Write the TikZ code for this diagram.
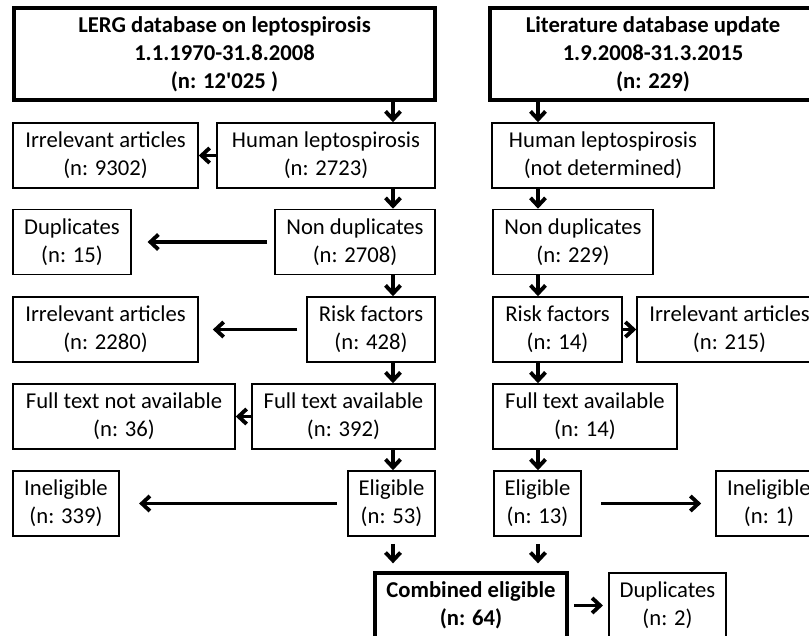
\documentclass[tikz,border=0pt]{standalone}
\usepackage{fontspec}
\setmainfont{Carlito}
\usepackage{tikz}
\usetikzlibrary{positioning, calc}
\usetikzlibrary{arrows.meta}

\tikzset{
    box/.style={draw, line width=0.9pt, align=center, inner sep=0pt, minimum height=1.3cm, font=\fontsize{12.9}{15.9}\selectfont},
    headbox/.style={box, line width=2pt, font=\fontsize{12.9}{15.9}\selectfont\bfseries},
    wd/.style={minimum width=#1*0.02cm},
    flow/.style={line width=2.2pt, -{Straight Barb[length=1.6mm,width=3mm]}}
}

\begin{document}
\begin{tikzpicture}[x=0.02cm, y=-0.02cm]
                \useasboundingbox (0,0) rectangle (809,636);
                \clip (0,0) rectangle (809,636);
                \coordinate (colL) at (393,0);
                \coordinate (colR) at (538,0);
                \node[headbox, wd=421, minimum height=1.84cm] (lerg) at (224.5,54) {LERG database on leptospirosis\\1.1.1970-31.8.2008\\(n: 12\textquotesingle025 )};
                \node[headbox, wd=326, minimum height=1.84cm] (lit) at (653,54) {Literature database update\\1.9.2008-31.3.2015\\(n: 229)};
                \node[box, wd=185] (irrA) at (105.5,155.5) {Irrelevant articles\\(n: 9302)};
                \node[box, wd=218] (humA) at (326,155.5) {Human leptospirosis\\(n: 2723)};
                \node[box, wd=222] (humB) at (603,155.5) {Human leptospirosis\\(not determined)};
                \node[box, wd=118] (dupA) at (72,242) {Duplicates\\(n: 15)};
                \node[box, wd=160] (ndA) at (355,242) {Non duplicates\\(n: 2708)};
                \node[box, wd=160] (ndB) at (573,242) {Non duplicates\\(n: 229)};
                \node[box, wd=185] (irrB) at (105.5,329.5) {Irrelevant articles\\(n: 2280)};
                \node[box, wd=128] (rfA) at (371,329.5) {Risk factors\\(n: 428)};
                \node[box, wd=129] (rfB) at (557.5,329.5) {Risk factors\\(n: 14)};
                \node[box, wd=185] (irrC) at (729.5,329.5) {Irrelevant articles\\(n: 215)};
                \node[box, wd=222] (ftna) at (124,416.5) {Full text not available\\(n: 36)};
                \node[box, wd=183] (ftA) at (343.5,416.5) {Full text available\\(n: 392)};
                \node[box, wd=184] (ftB) at (585,416.5) {Full text available\\(n: 14)};
                \node[box, wd=106] (inelA) at (66,503.5) {Ineligible\\(n: 339)};
                \node[box, wd=87] (elA) at (391.5,503.5) {Eligible\\(n: 53)};
                \node[box, wd=87] (elB) at (537.5,503.5) {Eligible\\(n: 13)};
                \node[box, wd=106] (inelB) at (769,503.5) {Ineligible\\(n: 1)};
                \node[headbox, wd=192] (comb) at (471,605.5) {Combined eligible\\(n: 64)};
                \node[box, wd=117] (dupB) at (667.5,605.5) {Duplicates\\(n: 2)};
                \draw[flow] (lerg.south -| colL) -- (humA.north -| colL);
                \draw[flow] (humA.south -| colL) -- (ndA.north -| colL);
                \draw[flow] (ndA.south -| colL) -- (rfA.north -| colL);
                \draw[flow] (rfA.south -| colL) -- (ftA.north -| colL);
                \draw[flow] (ftA.south -| colL) -- (elA.north -| colL);
                \draw[flow, shorten <=4, shorten >=4.5] (elA.south -| colL) -- (comb.north -| colL);
                \draw[flow] (lit.south -| colR) -- (humB.north -| colR);
                \draw[flow] (humB.south -| colR) -- (ndB.north -| colR);
                \draw[flow] (ndB.south -| colR) -- (rfB.north -| colR);
                \draw[flow] (rfB.south -| colR) -- (ftB.north -| colR);
                \draw[flow] (ftB.south -| colR) -- (elB.north -| colR);
                \draw[flow, shorten <=4, shorten >=4.5] (elB.south -| colR) -- (comb.north -| colR);
                \draw[flow] (humA.west) -- (irrA.east);
                \draw[flow, shorten <=4, shorten >=9] (ndA.west) -- (dupA.east);
                \draw[flow, shorten <=5, shorten >=8] (rfA.west) -- (irrB.east);
                \draw[flow] (rfB.east) -- (irrC.west);
                \draw[flow] (ftA.west) -- (ftna.east);
                \draw[flow, shorten <=6, shorten >=11] (elA.west) -- (inelA.east);
                \draw[flow, shorten <=11, shorten >=8] (elB.east) -- (inelB.west);
                \draw[flow, shorten <=3, shorten >=3] (comb.east) -- (dupB.west);
\end{tikzpicture}
\end{document}
